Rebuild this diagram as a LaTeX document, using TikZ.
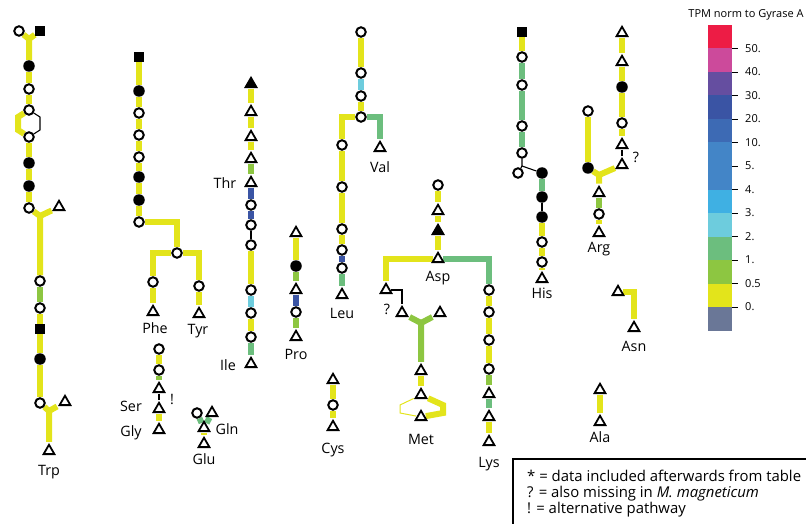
\documentclass[tikz,border=0pt]{standalone}
\usepackage{fontspec}
\setmainfont{Open Sans}
\usetikzlibrary{shapes.geometric,backgrounds}

% expression scale colours
\definecolor{sRed}{HTML}{ED1C45}
\definecolor{sMag}{HTML}{CC4A9B}
\definecolor{sPur}{HTML}{654EA0}
\definecolor{sDbl}{HTML}{3A54A4}
\definecolor{sBlu}{HTML}{3D6AB4}
\definecolor{sMbl}{HTML}{4385C7}
\definecolor{sLbl}{HTML}{3FB0E3}
\definecolor{sCya}{HTML}{6DCCDD}
\definecolor{sGrn}{HTML}{6CBE7E}
\definecolor{sYgr}{HTML}{8DC641}
\definecolor{sYel}{HTML}{E3E41B}
\definecolor{sGry}{HTML}{6A7797}

\tikzset{
  oc/.style={circle, draw=black, line width=2pt, fill=white, inner sep=0pt, minimum size=9.5pt},
  bc/.style={circle, fill=black, inner sep=0pt, minimum size=11.5pt},
  ot/.style={regular polygon, regular polygon sides=3, draw=black, line width=1.8pt,
             fill=white, inner sep=0pt, minimum size=12.5pt, outer sep=1.5pt},
  bt/.style={ot, fill=black},
  bs/.style={rectangle, fill=black, inner sep=0pt, minimum size=10pt},
  seg/.style={line width=6pt},
  yel/.style={seg, draw=sYel},
  ygr/.style={seg, draw=sYgr},
  grn/.style={seg, draw=sGrn},
  cya/.style={seg, draw=sCya},
  dbl/.style={seg, draw=sDbl},
  link/.style={line width=1.1pt, draw=black},
  lbl/.style={anchor=base, inner sep=0pt, font=\fontsize{14.3}{16}\selectfont},
  lgd/.style={anchor=base west, inner sep=0pt, font=\fontsize{14.9}{17}\selectfont},
  scl/.style={anchor=west, inner sep=0pt, font=\fontsize{11}{13}\selectfont},
}

\begin{document}
\begin{tikzpicture}[x=1pt, y=-1pt]
\useasboundingbox (0,0) rectangle (806,524);
\clip (0,0) rectangle (806,524);

% ---------------- Trp ----------------
\node[oc] (w1) at (19,31) {};
\node[bs] (w2) at (40,31) {};
\coordinate (wj1) at (29,39);
\node[bc] (w3) at (29,66) {};
\node[oc] (w4) at (29,89) {};
\node[oc] (w5) at (29,110) {};
\node[oc] (w6) at (29,137) {};
\node[bc] (w7) at (29,163) {};
\node[bc] (w8) at (29,186) {};
\node[oc] (w9) at (29,208) {};
\node[ot] (w10) at (59,207) {};
\coordinate (wj2) at (40,216);
\node[oc] (w11) at (40,281) {};
\node[oc] (w12) at (40,308) {};
\node[bs] (w13) at (40,329) {};
\node[bc] (w14) at (40,359) {};
\node[oc] (w15) at (40,403) {};
\node[ot] (w16) at (65,402) {};
\coordinate (wj3) at (49,411);
\node[ot] (w17) at (49,451) {};
\node[lbl] (lTrp) at (49,475) {Trp};

% ---------------- Phe / Tyr ----------------
\node[bs] (f1) at (139,57) {};
\node[bc] (f2) at (139,91) {};
\node[oc] (f3) at (139,113) {};
\node[oc] (f4) at (139,135) {};
\node[oc] (f5) at (139,157) {};
\node[bc] (f6) at (139,177) {};
\node[bc] (f7) at (139,200) {};
\node[oc] (f8) at (139,222) {};
\node[oc] (f9) at (177,253) {};
\node[oc] (f10) at (153,282) {};
\node[ot] (f11) at (153,312) {};
\node[oc] (f12) at (199,286) {};
\node[ot] (f13) at (199,314) {};
\node[lbl] (lPhe) at (155,333) {Phe};
\node[lbl] (lTyr) at (198,334) {Tyr};

% ---------------- Ser / Gly ----------------
\node[oc] (s1) at (159,349) {};
\node[oc] (s2) at (159,370) {};
\node[ot] (s3) at (159,389) {};
\node[ot] (s4) at (159,409) {};
\node[ot] (s5) at (159,430) {};
\node[lbl] (lSer) at (131,411) {Ser};
\node[lbl] (lGly) at (131,436) {Gly};
\node[lbl] (lBang) at (172,404) {!};

% ---------------- Gln / Glu ----------------
\node[oc] (q1) at (197,413) {};
\node[ot] (q2) at (212,413) {};
\node[ot] (q3) at (204,428) {};
\node[ot] (q4) at (204,444) {};
\node[lbl] (lGln) at (227,434) {Gln};
\node[lbl] (lGlu) at (204,464) {Glu};

% ---------------- Thr / Ile ----------------
\node[bt] (i1) at (251,84) {};
\node[ot] (i2) at (251,112) {};
\node[ot] (i3) at (251,137) {};
\node[ot] (i4) at (251,159) {};
\node[ot] (i5) at (251,183) {};
\node[oc] (i6) at (251,205) {};
\node[oc] (i7) at (251,225) {};
\node[oc] (i8) at (251,245) {};
\node[oc] (i9) at (251,290) {};
\node[oc] (i10) at (251,313) {};
\node[oc] (i11) at (251,337) {};
\node[ot] (i12) at (251,364) {};
\node[lbl] (lThr) at (225,189) {Thr};
\node[lbl] (lIle) at (228,370) {Ile};

% ---------------- Pro ----------------
\node[ot] (p1) at (296,233) {};
\node[bc] (p2) at (296,266) {};
\node[ot] (p3) at (296,290) {};
\node[oc] (p4) at (296,312) {};
\node[ot] (p5) at (296,337) {};
\node[lbl] (lPro) at (296,359) {Pro};

% ---------------- Leu / Val ----------------
\node[oc] (l1) at (361,32) {};
\node[oc] (l2) at (361,73) {};
\node[oc] (l3) at (361,96) {};
\node[oc] (l4) at (361,117) {};
\node[ot] (v1) at (380,148) {};
\node[oc] (l5) at (342,145) {};
\node[oc] (l6) at (342,187) {};
\node[oc] (l7) at (342,229) {};
\node[oc] (l8) at (342,250) {};
\node[oc] (l9) at (342,268) {};
\node[ot] (l10) at (342,295) {};
\node[lbl] (lVal) at (380,172) {Val};
\node[lbl] (lLeu) at (342,318) {Leu};

% ---------------- Cys ----------------
\node[ot] (c1) at (333,380) {};
\node[oc] (c2) at (333,405) {};
\node[ot] (c3) at (333,427) {};
\node[lbl] (lCys) at (333,453) {Cys};

% ---------------- Asp / Met / Lys ----------------
\node[oc] (a1) at (438,185) {};
\node[ot] (a2) at (438,211) {};
\node[bt] (a3) at (438,231) {};
\node[ot] (a4) at (438,259) {};
\node[lbl] (lAsp) at (438,281) {Asp};
\node[ot] (m1) at (386,290) {};
\node[ot] (m2) at (402,313) {};
\node[ot] (m3) at (440,313) {};
\coordinate (mj) at (421,323);
\node[ot] (m4) at (421,371) {};
\node[ot] (m5) at (421,395) {};
\node[ot] (m6) at (421,417) {};
\node[lbl] (lQ1) at (387,314) {?};
\node[lbl] (lMet) at (421,444) {Met};
\node[oc] (k1) at (489,290) {};
\node[oc] (k2) at (489,312) {};
\node[oc] (k3) at (489,340) {};
\node[oc] (k4) at (489,369) {};
\node[ot] (k5) at (489,394) {};
\node[ot] (k6) at (489,417) {};
\node[ot] (k7) at (489,442) {};
\node[lbl] (lLys) at (489,467) {Lys};

% ---------------- His ----------------
\node[bs] (h1) at (522,32) {};
\node[oc] (h2) at (522,57) {};
\node[oc] (h3) at (522,85) {};
\node[oc] (h4) at (522,126) {};
\node[oc] (h5) at (522,153) {};
\coordinate (hj) at (522,166);
\node[oc] (h6) at (518,173) {};
\node[bc] (h7) at (542,173) {};
\node[bc] (h8) at (542,197) {};
\node[bc] (h9) at (542,217) {};
\node[oc] (h10) at (542,242) {};
\node[oc] (h11) at (542,262) {};
\node[ot] (h12) at (542,279) {};
\node[lbl] (lHis) at (542,298.5) {His};

% ---------------- Arg ----------------
\node[ot] (r1) at (622,33) {};
\node[ot] (r2) at (622,62) {};
\node[bc] (r3) at (622,87) {};
\node[oc] (r4) at (622,123) {};
\node[ot] (r5) at (622,145) {};
\node[ot] (r6) at (622,165) {};
\node[oc] (r7) at (588,111) {};
\node[bc] (r8) at (588,168) {};
\coordinate (rj) at (599,175);
\node[ot] (r9) at (599,193) {};
\node[oc] (r10) at (599,214) {};
\node[ot] (r11) at (599,233) {};
\node[lbl] (lQ2) at (636,163) {?};
\node[lbl] (lArg) at (599,252.5) {Arg};

% ---------------- Asn / Ala ----------------
\node[ot] (n1) at (618,292) {};
\node[ot] (n2) at (634,328) {};
\node[lbl] (lAsn) at (634,351) {Asn};
\node[ot] (al1) at (600,390) {};
\node[ot] (al2) at (600,422) {};
\node[lbl] (lAla) at (600,442) {Ala};

% ---------------- connectors ----------------
\begin{scope}[on background layer]
  % Trp
  \draw[yel] (w1) -- (wj1) -- (w3);
  \draw[yel] (w2) -- (wj1);
  \draw[yel] (w3) -- (w4) -- (w5);
  \draw[yel] (w5) -- (18,117) -- (18,130) -- (w6);
  \draw[link] (w5) -- (40,117) -- (40,130) -- (w6);
  \draw[yel] (w6) -- (w7) -- (w8) -- (w9);
  \draw[yel] (w9) -- (wj2) -- (w11);
  \draw[yel] (w10) -- (wj2);
  \draw[ygr] (w11) -- (w12);
  \draw[yel] (w12) -- (w13) -- (w14) -- (w15);
  \draw[yel] (w15) -- (wj3) -- (w17);
  \draw[yel] (w16) -- (wj3);
  % Phe / Tyr
  \draw[yel] (f1) -- (f2) -- (f3) -- (f4) -- (f5) -- (f6) -- (f7) -- (f8);
  \draw[yel] (f8) -| (f9);
  \draw[yel] (f9) -| (f10);
  \draw[yel] (f9) -| (f12);
  \draw[yel] (f10) -- (f11);
  \draw[yel] (f12) -- (f13);
  % Ser / Gly
  \draw[yel] (s1) -- (s2);
  \draw[ygr] (s2) -- (s3);
  \draw[link] (s3) -- (s4);
  \draw[yel] (s4) -- (s5);
  % Gln / Glu
  \draw[grn] (q1) -- (q3);
  \draw[grn] (q2) -- (q3);
  \draw[yel] (q3) -- (q4);
  % Thr / Ile
  \draw[yel] (i1) -- (i2) -- (i3) -- (i4);
  \draw[ygr] (i4) -- (i5);
  \draw[dbl] (i5) -- (i6) -- (i7);
  \draw[link] (i7) -- (i8);
  \draw[yel] (i8) -- (i9);
  \draw[cya] (i9) -- (i10);
  \draw[yel] (i10) -- (i11);
  \draw[grn] (i11) -- (i12);
  % Pro
  \draw[yel] (p1) -- (p2);
  \draw[ygr] (p2) -- (p3);
  \draw[dbl] (p3) -- (p4);
  \draw[ygr] (p4) -- (p5);
  % Leu / Val
  \draw[yel] (l1) -- (l2);
  \draw[cya] (l2) -- (l3);
  \draw[yel] (l3) -- (l4);
  \draw[grn] (l4) -| (v1);
  \draw[yel] (l4) -| (l5);
  \draw[yel] (l5) -- (l6) -- (l7) -- (l8);
  \draw[dbl] (l8) -- (l9);
  \draw[grn] (l9) -- (l10);
  % Cys
  \draw[yel] (c1) -- (c2) -- (c3);
  % Asp / Met / Lys
  \draw[yel] (a1) -- (a2) -- (a3) -- (a4);
  \draw[yel] (a4) -| (m1);
  \draw[grn] (a4) -| (k1);
  \draw[link] (m1) -| (m2);
  \draw[ygr] (m2) -- (mj) -- (m4);
  \draw[ygr] (m3) -- (mj);
  \draw[yel] (m4) -- (m5);
  \draw[yel] (m5) -- (443,405) -- (443,413) -- (m6);
  \draw[draw=sYel, line width=1pt] (m5) -- (400,405) -- (400,413) -- (m6);
  \draw[yel] (k1) -- (k2) -- (k3) -- (k4);
  \draw[ygr] (k4) -- (k5);
  \draw[grn] (k5) -- (k6);
  \draw[yel] (k6) -- (k7);
  % His
  \draw[yel] (h1) -- (h2);
  \draw[grn] (h2) -- (h3) -- (h4) -- (h5);
  \draw[link] (h5) -- (hj) -- (h7);
  \draw[link] (hj) -- (h6);
  \draw[grn] (h7) -- (h8);
  \draw[link] (h8) -- (h9);
  \draw[yel] (h9) -- (h10) -- (h11) -- (h12);
  % Arg
  \draw[yel] (r1) -- (r2) -- (r3) -- (r4) -- (r5);
  \draw[link] (r5) -- (r6);
  \draw[yel] (r7) -- (r8);
  \draw[yel] (r8) -- (rj) -- (r9);
  \draw[yel] (r6) -- (rj);
  \draw[ygr] (r9) -- (r10);
  \draw[yel] (r10) -- (r11);
  % Asn / Ala
  \draw[yel] (n1) -| (n2);
  \draw[yel] (al1) -- (al2);
\end{scope}

% ---------------- colour scale ----------------
\node[inner sep=0pt, font=\fontsize{11}{13}\selectfont] (sTitle) at (746,15) {TPM norm to Gyrase A};
\foreach \c [count=\k from 0] in {sRed,sMag,sPur,sDbl,sBlu,sMbl,sMbl,sLbl,sCya,sGrn,sYgr,sYel,sGry}
  \fill[\c] (708,{25+23.5*\k}) rectangle (732,{25+23.5*(\k+1)});
\foreach \t [count=\k from 1] in {50.,40.,30.,20.,10.,5.,4.,3.,2.,1.,0.5,0.}{
  \draw[line width=0.6pt] (732,{25+23.5*\k}) -- (738,{25+23.5*\k});
  \node[scl] at (745,{25+23.5*\k}) {\t};
}

% ---------------- key ----------------
\draw[line width=2.2pt] (513,459) rectangle (812,532);
\node[lgd] (k1t) at (527,481) {* = data included afterwards from table};
\node[lgd] (k2t) at (527,497) {? = also missing in \textit{M. magneticum}};
\node[lgd] (k3t) at (527,513) {! = alternative pathway};
\end{tikzpicture}
\end{document}
